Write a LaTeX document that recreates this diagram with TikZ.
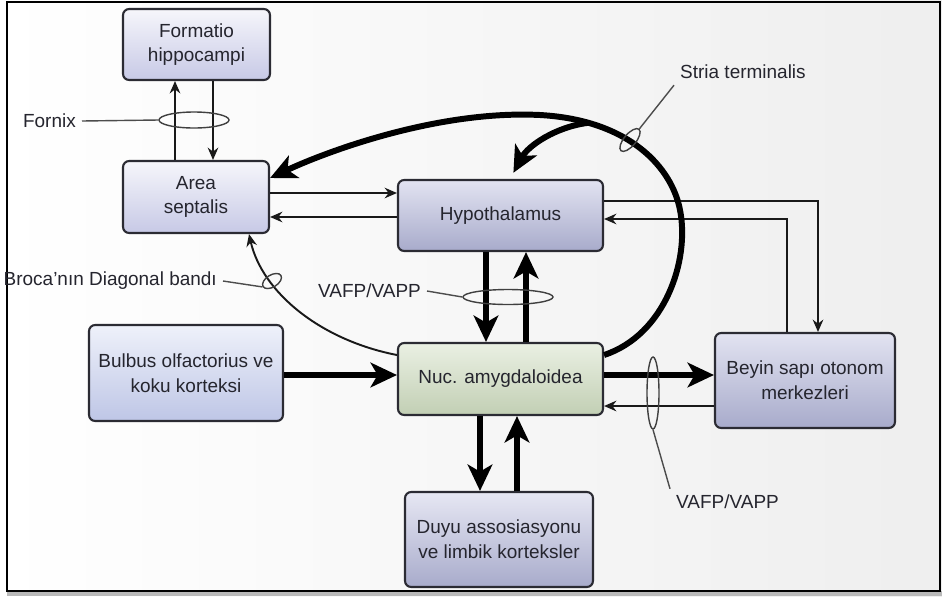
\documentclass[tikz,border=0pt]{standalone}
\usepackage{fontspec}
\setmainfont{Liberation Sans}
\usetikzlibrary{positioning}
\usetikzlibrary{arrows.meta}
\usetikzlibrary{shapes.geometric}
\usepackage{xcolor}

\definecolor{kenar}{HTML}{2B2B33}
\definecolor{yazi}{HTML}{25252E}
\definecolor{lavust}{HTML}{F6F6FB}
\definecolor{lavalt}{HTML}{C7C9E6}
\definecolor{koyuust}{HTML}{E2E3F1}
\definecolor{koyualt}{HTML}{A8ABCB}
\definecolor{yesilust}{HTML}{EAF0E3}
\definecolor{yesilalt}{HTML}{C2CFB4}
\definecolor{mavust}{HTML}{EEF1FA}
\definecolor{mavalt}{HTML}{BEC6E6}

\tikzset{
  kutu/.style={draw=kenar, line width=1.2pt, rounded corners=3.5pt, align=center,
    text=yazi, font=\fontsize{10.8}{14}\selectfont, top color=lavust, bottom color=lavalt},
  koyukutu/.style={kutu, top color=koyuust, bottom color=koyualt},
  ince/.style={line width=1.1pt, draw=black!90, -{Stealth[length=7pt,width=6pt]}},
  kalin/.style={line width=3.6pt, draw=black, -{Stealth[length=15pt,width=14pt,inset=4pt]}},
  halka/.style={draw=black!75, ellipse, line width=0.8pt, inner sep=0pt},
  etiket/.style={text=yazi, font=\fontsize{10.8}{13}\selectfont},
  cizgi/.style={draw=black!70, line width=0.8pt}
}

\begin{document}
\begin{tikzpicture}[x=0.02cm, y=-0.02cm]

\useasboundingbox (0,0) rectangle (942,596);
\shade[left color=white, right color=gray!13] (0,0) rectangle (942,596);
\fill[gray!55] (7,591) rectangle (942,596);
\draw[line width=0.9pt] (7,2) rectangle (940,591);

\node[kutu, minimum width=2.94cm, minimum height=1.42cm] (formatio) at (196.5,44.5) {Formatio\\hippocampi};
\node[kutu, minimum width=2.92cm, minimum height=1.44cm] (area) at (196,197) {Area\\septalis};
\node[koyukutu, minimum width=4.1cm, minimum height=1.42cm] (hypo) at (500.5,215.5) {Hypothalamus};
\node[kutu, top color=yesilust, bottom color=yesilalt, minimum width=4.1cm, minimum height=1.44cm] (nuc) at (500.5,379) {Nuc. amygdaloidea};
\node[kutu, top color=mavust, bottom color=mavalt, minimum width=3.88cm, minimum height=1.92cm] (bulbus) at (186,373) {Bulbus olfactorius ve\\koku korteksi};
\node[koyukutu, minimum width=3.6cm, minimum height=1.9cm] (beyin) at (805,380.5) {Beyin sapı otonom\\merkezleri};
\node[koyukutu, top color=koyuust!85!white, minimum width=3.76cm, minimum height=1.9cm] (duyu) at (499,539.5) {Duyu assosiasyonu\\ve limbik korteksler};

\draw[ince] (area.north -| 175,0) -- (formatio.south -| 175,0);
\draw[ince] (formatio.south -| 213,0) -- (area.north -| 213,0);
\draw[ince] (area.east |- 0,193) -- (hypo.west |- 0,193);
\draw[ince] (hypo.west |- 0,217) -- (area.east |- 0,217);
\draw[ince] (hypo.east |- 0,201) -| (beyin.north -| 818,0);
\draw[ince] (beyin.north -| 787,0) |- (hypo.east |- 0,219);
\draw[ince] (beyin.west |- 0,406) -- (nuc.east |- 0,406);

\draw[kalin] (hypo.south -| 486,0) -- (nuc.north -| 486,0);
\draw[kalin] (nuc.north -| 526,0) -- (hypo.south -| 526,0);
\draw[kalin] (bulbus.east |- 0,375) -- (nuc.west |- 0,375);
\draw[kalin] (nuc.east |- 0,375) -- (beyin.west |- 0,375);
\draw[kalin] (nuc.south -| 480,0) -- (duyu.north -| 480,0);
\draw[kalin] (duyu.north -| 517,0) -- (nuc.south -| 517,0);

\draw[kalin, line width=3.4pt] (nuc.east |- 0,355) .. controls (665,335) and (690,260) .. (680,210)
  .. controls (672,168) and (630,120) .. (540,115) coordinate[pos=0.8] (ayrim)
  .. controls (440,110) and (330,150) .. (area.east |- 0,178);
\draw[kalin, line width=3.4pt, shorten >=4pt] (ayrim) .. controls (555,127) and (528,146) .. (hypo.north -| 510,0);

\draw[ince] (nuc.west |- 0,355) .. controls (320,340) and (262,292) .. (area.south -| 249,0);

\node[halka, minimum width=1.4cm, minimum height=0.32cm] (fornixhalka) at (194,120) {};
\node[halka, minimum width=0.56cm, minimum height=0.24cm, rotate=50] (striahalka) at (630,140) {};
\node[halka, minimum width=1.8cm, minimum height=0.3cm] (vafphalka) at (508,297) {};
\node[halka, minimum width=0.24cm, minimum height=1.44cm] (vafphalkaiki) at (653,393) {};
\node[halka, minimum width=0.42cm, minimum height=0.24cm, rotate=32] (brocahalka) at (272,281) {};

\node[etiket, anchor=east] (fornix) at (82,121) {Fornix};
\node[etiket, anchor=west] (stria) at (674,72) {Stria terminalis};
\node[etiket, anchor=east] (vafp) at (427,291) {VAFP/VAPP};
\node[etiket, anchor=west] (vafpiki) at (670,502) {VAFP/VAPP};
\node[etiket, anchor=east] (broca) at (223,281) {Broca’nın Diagonal bandı};

\draw[cizgi] (fornix.east) -- (fornixhalka.west);
\draw[cizgi] (stria.south west) -- (striahalka.east);
\draw[cizgi] (vafp.east) -- (vafphalka.west);
\draw[cizgi] (vafphalkaiki.south) -- (vafpiki.north west);
\draw[cizgi] (broca.east) -- (brocahalka.west);

\end{tikzpicture}
\end{document}
